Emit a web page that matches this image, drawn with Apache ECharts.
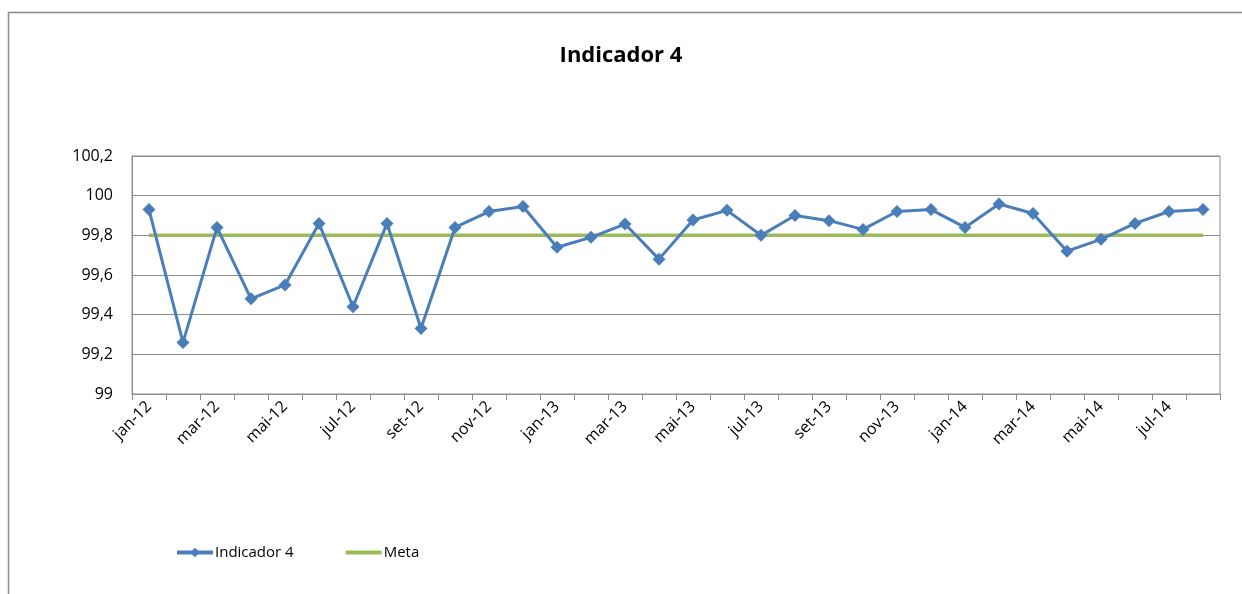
<!DOCTYPE html>
<html>
<head>
<meta charset="utf-8">
<script src="https://cdn.jsdelivr.net/npm/echarts@6/dist/echarts.min.js"></script>
<style>
html,body{margin:0;padding:0;background:#fff;}
#c{width:1242px;height:594px;}
</style>
</head>
<body>
<div id="c"></div>
<script>
const categories = ['jan-12','fev-12','mar-12','abr-12','mai-12','jun-12','jul-12','ago-12','set-12','out-12','nov-12','dez-12',
  'jan-13','fev-13','mar-13','abr-13','mai-13','jun-13','jul-13','ago-13','set-13','out-13','nov-13','dez-13',
  'jan-14','fev-14','mar-14','abr-14','mai-14','jun-14','jul-14','ago-14'];
const indicador4 = [99.93,99.26,99.84,99.48,99.55,99.86,99.44,99.86,99.33,99.84,99.92,99.945,
  99.74,99.79,99.857,99.68,99.877,99.926,99.80,99.90,99.874,99.83,99.92,99.93,
  99.84,99.958,99.91,99.72,99.78,99.86,99.92,99.93];
const meta = [99.8,99.8,99.8,99.8,99.8,99.8,99.8,99.8,99.8,99.8,99.8,99.8,
  99.8,99.8,99.8,99.8,99.8,99.8,99.8,99.8,99.8,99.8,99.8,99.8,
  99.8,99.8,99.8,99.8,99.8,99.8,99.8,99.8];
const yTicks = ['99','99,2','99,4','99,6','99,8','100','100,2'];

const FONT = '"Open Sans", sans-serif';
const chart = echarts.init(document.getElementById('c'));
chart.setOption({
  animation:false,
  backgroundColor:'#fff',
  graphic:[{type:'rect',shape:{x:8.5,y:12.5,width:1400,height:800},style:{fill:'none',stroke:'#8c8c8c',lineWidth:1.5},silent:true}],
  title:{text:'Indicador 4',left:'center',top:40,textStyle:{fontFamily:FONT,fontWeight:'bold',fontSize:22,color:'#000'}},
  legend:{left:170,top:540,itemWidth:36,itemHeight:12,itemGap:50,
    textStyle:{fontFamily:FONT,fontSize:15,color:'#000',padding:[0,0,0,-3]},
    data:[{name:'Indicador 4',lineStyle:{width:4}},{name:'Meta',itemStyle:{opacity:0},lineStyle:{width:4}}]},
  grid:{left:132,right:22,top:156,bottom:200,show:true,borderColor:'#8c8c8c',borderWidth:1},
  xAxis:{type:'category',data:categories,boundaryGap:true,
    axisLine:{lineStyle:{color:'#8c8c8c',width:1}},
    axisTick:{show:true,interval:0,length:6,lineStyle:{color:'#8c8c8c'}},
    axisLabel:{interval:1,rotate:45,fontFamily:FONT,fontSize:16,color:'#000',margin:10}},
  yAxis:{type:'value',min:99,max:100.2,interval:0.2,
    axisLine:{show:true,lineStyle:{color:'#8c8c8c'}},
    axisTick:{show:false},
    splitLine:{lineStyle:{color:'#8c8c8c',width:1}},
    axisLabel:{fontFamily:FONT,fontSize:16,color:'#000',margin:19,
      formatter:function(v){const i=Math.round((v-99)/0.2);return yTicks[i];}}},
  series:[
    {name:'Indicador 4',type:'line',data:indicador4,symbol:'diamond',symbolSize:13,
      lineStyle:{color:'#4A7EBB',width:3},itemStyle:{color:'#4A7EBB'},z:3},
    {name:'Meta',type:'line',data:meta,symbol:'none',showSymbol:false,
      lineStyle:{color:'#9BBB59',width:3.5},itemStyle:{color:'#9BBB59'},z:2}
  ]
});
</script>
</body>
</html>
